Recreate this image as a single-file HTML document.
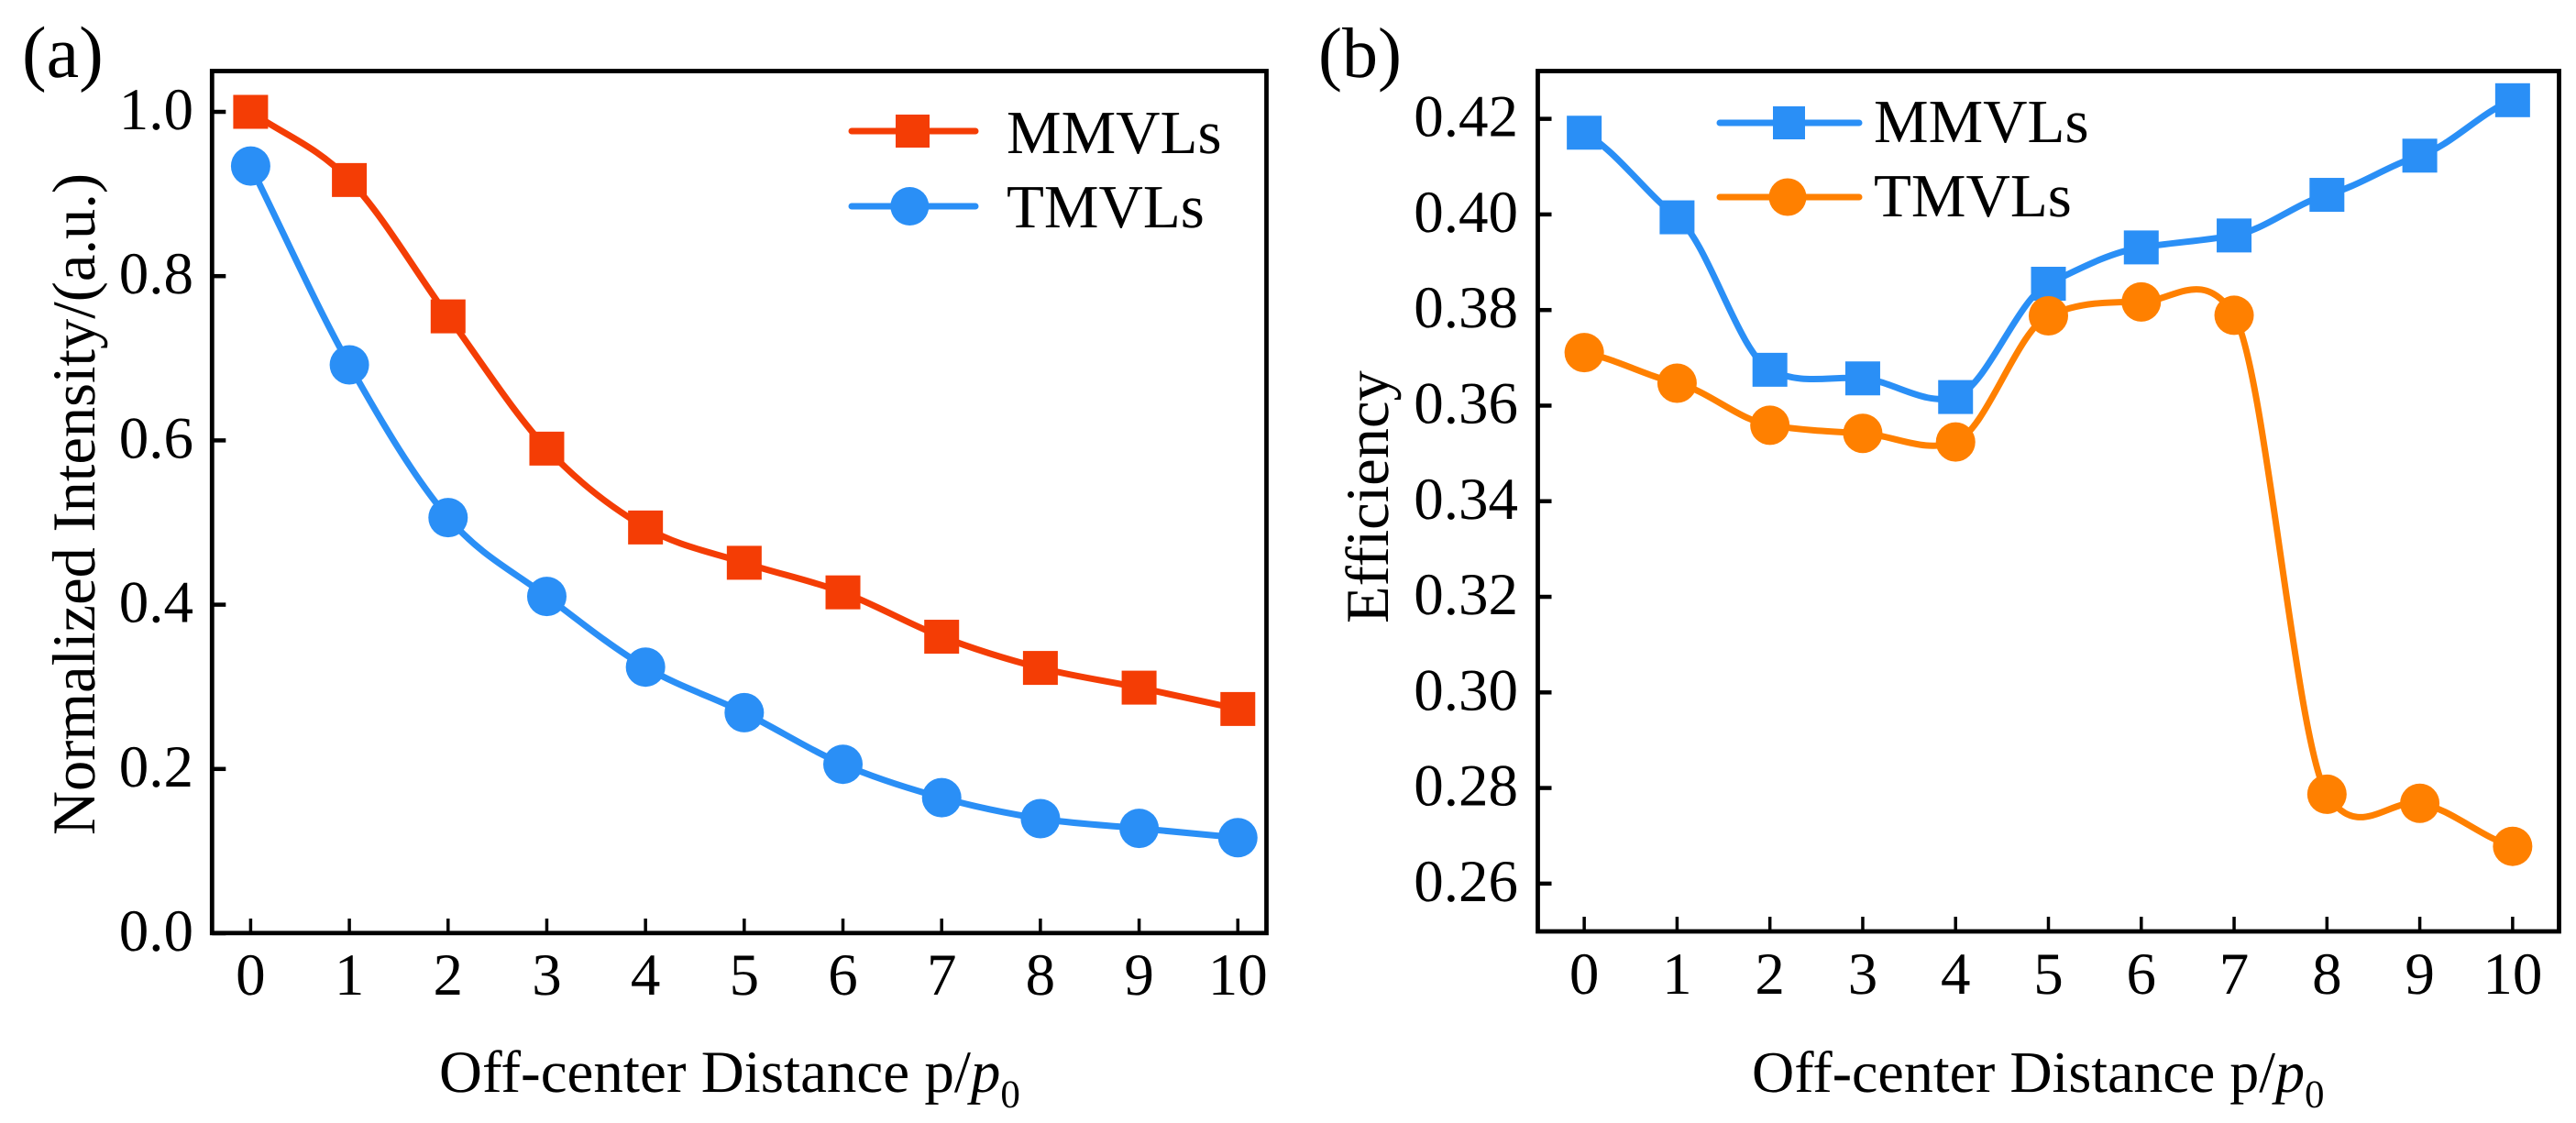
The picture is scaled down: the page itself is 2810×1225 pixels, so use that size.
<!DOCTYPE html>
<html lang="en">
<head>
<meta charset="utf-8">
<title>Off-center distance charts</title>
<style>
html,body{margin:0;padding:0;background:#fff;}
svg{display:block;}
text{font-family:"Liberation Serif","Times New Roman",serif;fill:#000;text-rendering:geometricPrecision;}
</style>
</head>
<body>
<svg id="figure" xmlns="http://www.w3.org/2000/svg" width="2810" height="1225" viewBox="0 0 2810 1225">
  <rect x="0" y="0" width="2810" height="1225" fill="#fff"/>
  <text x="24" y="84" font-size="80">(a)</text>
  <text x="1438" y="84" font-size="78">(b)</text>

  <rect x="231.3" y="77.5" width="1150.2" height="940.3" fill="none" stroke="#000" stroke-width="4.8"/>
  <rect x="1677.5" y="77.5" width="1114" height="938.5" fill="none" stroke="#000" stroke-width="4.8"/>

  <g id="panel-a-axes"></g>
  <g id="panel-b-axes"></g>
  <g id="panel-a-series"></g>
  <g id="panel-b-series"></g>

  <text x="479" y="1191" font-size="65">Off-center Distance p/<tspan font-style="italic">p</tspan><tspan font-size="43" dy="17">0</tspan></text>
  <text x="1911" y="1191" font-size="64">Off-center Distance p/<tspan font-style="italic">p</tspan><tspan font-size="43" dy="17">0</tspan></text>
  <text transform="translate(103 911) rotate(-90)" x="0" y="0" font-size="66.5">Normalized Intensity/(a.u.)</text>
  <text transform="translate(1514 680) rotate(-90)" x="0" y="0" font-size="66.5">Efficiency</text>

  <g>
    <line x1="929" y1="143" x2="1064" y2="143" stroke="#F43D05" stroke-width="7" stroke-linecap="round"/>
    <rect x="977" y="125" width="37" height="36" fill="#F43D05"/>
    <text x="1098" y="167" font-size="67">MMVLs</text>
    <line x1="929" y1="225" x2="1064" y2="225" stroke="#2A8FF6" stroke-width="7" stroke-linecap="round"/>
    <circle cx="992.3" cy="225" r="21" fill="#2A8FF6"/>
    <text x="1098" y="248" font-size="67">TMVLs</text>
  </g>
  <g>
    <line x1="1876" y1="134" x2="2028" y2="134" stroke="#2A8FF6" stroke-width="7" stroke-linecap="round"/>
    <rect x="1934" y="116" width="35" height="36" fill="#2A8FF6"/>
    <text x="2044" y="155" font-size="67">MMVLs</text>
    <line x1="1876" y1="215" x2="2028" y2="215" stroke="#FF8000" stroke-width="7" stroke-linecap="round"/>
    <circle cx="1950" cy="215" r="20.5" fill="#FF8000"/>
    <text x="2044" y="236" font-size="67">TMVLs</text>
  </g>
</svg>
<script>
var categories = [0, 1, 2, 3, 4, 5, 6, 7, 8, 9, 10];
var xTickLabels = ['0', '1', '2', '3', '4', '5', '6', '7', '8', '9', '10'];
var intensityTicks = [0.0, 0.2, 0.4, 0.6, 0.8, 1.0];
var intensityTickLabels = ['0.0', '0.2', '0.4', '0.6', '0.8', '1.0'];
var efficiencyTicks = [0.26, 0.28, 0.30, 0.32, 0.34, 0.36, 0.38, 0.40, 0.42];
var efficiencyTickLabels = ['0.26', '0.28', '0.30', '0.32', '0.34', '0.36', '0.38', '0.40', '0.42'];
var intensityMMVLs = [1.0, 0.917, 0.751, 0.59, 0.494, 0.451, 0.415, 0.361, 0.323, 0.299, 0.273];
var intensityTMVLs = [0.934, 0.692, 0.506, 0.41, 0.324, 0.2685, 0.2057, 0.165, 0.1395, 0.1277, 0.1163];
var efficiencyMMVLs = [0.4171, 0.3994, 0.3675, 0.3657, 0.3618, 0.3855, 0.3931, 0.3956, 0.4041, 0.4123, 0.4239];
var efficiencyTMVLs = [0.3711, 0.3647, 0.3559, 0.3542, 0.3524, 0.3788, 0.3817, 0.3789, 0.2787, 0.2768, 0.2678];

var NS = 'http://www.w3.org/2000/svg';

function linearScale(d0, d1, r0, r1) {
  return function (v) { return r0 + (v - d0) / (d1 - d0) * (r1 - r0); };
}
var xA = linearScale(-0.391, 10.29, 231.3, 1381.5);
var yA = linearScale(0, 1, 1018, 122);
var xB = linearScale(-0.5, 10.5, 1677.5, 2791.5);
var yB = linearScale(0.25, 0.43, 1016, 77.5);

function smoothPath(xs, ys, xScale, yScale, k) {
  var n = xs.length;
  var slopes = [];
  for (var i = 0; i < n; i++) {
    var a = Math.max(0, i - 1), b = Math.min(n - 1, i + 1);
    slopes.push((ys[b] - ys[a]) / (xs[b] - xs[a]) * k);
  }
  var d = 'M' + xScale(xs[0]) + ' ' + yScale(ys[0]);
  for (var j = 0; j < n - 1; j++) {
    var h = xs[j + 1] - xs[j];
    d += ' C' + xScale(xs[j] + h / 3) + ' ' + yScale(ys[j] + slopes[j] * h / 3) +
      ' ' + xScale(xs[j + 1] - h / 3) + ' ' + yScale(ys[j + 1] - slopes[j + 1] * h / 3) +
      ' ' + xScale(xs[j + 1]) + ' ' + yScale(ys[j + 1]);
  }
  return d;
}

function addTick(parent, x1, y1, x2, y2, width) {
  var el = document.createElementNS(NS, 'line');
  
  
  el.setAttribute('x1', x1);
  el.setAttribute('y1', y1);
  el.setAttribute('x2', x2);
  el.setAttribute('y2', y2);
  el.setAttribute('stroke', '#000');
  el.setAttribute('stroke-width', width);
  parent.appendChild(el);
}

function addLabel(parent, x, y, anchor, size, str) {
  var el = document.createElementNS(NS, 'text');
  
  
  el.setAttribute('x', x);
  el.setAttribute('y', y);
  el.setAttribute('text-anchor', anchor);
  el.setAttribute('font-size', size);
  el.textContent = str;
  parent.appendChild(el);
}

function drawAxes(parent, xScale, yScale, yTicks, yLabels, frameLeft, frameBottom, labelRight, xBaseline) {
  categories.forEach(function (c, i) {
    addTick(parent, xScale(c), frameBottom, xScale(c), frameBottom - 16, 3.5);
    addLabel(parent, xScale(c), xBaseline, 'middle', 65, xTickLabels[i]);
  });
  yTicks.forEach(function (t, i) {
    addTick(parent, frameLeft, yScale(t), frameLeft + 15, yScale(t), 4.5);
    addLabel(parent, labelRight, yScale(t) + 19, 'end', 65, yLabels[i]);
  });
}

function drawSeries(parent, values, xScale, yScale, color, shape, k) {
  var line = document.createElementNS(NS, 'path');
  
  
  line.setAttribute('d', smoothPath(categories, values, xScale, yScale, k));
  line.setAttribute('fill', 'none');
  line.setAttribute('stroke', color);
  line.setAttribute('stroke-width', 7);
  parent.appendChild(line);
  values.forEach(function (v, i) {
    var m;
    if (shape === 'square') {
      m = document.createElementNS(NS, 'rect');
      m.setAttribute('x', xScale(categories[i]) - 19);
      m.setAttribute('y', yScale(v) - 18.5);
      m.setAttribute('width', 38);
      m.setAttribute('height', 37);
    } else {
      m = document.createElementNS(NS, 'circle');
      m.setAttribute('cx', xScale(categories[i]));
      m.setAttribute('cy', yScale(v));
      m.setAttribute('r', 21.5);
    }
    
    
    m.setAttribute('fill', color);
    parent.appendChild(m);
  });
}

drawAxes(document.getElementById('panel-a-axes'), xA, yA, intensityTicks, intensityTickLabels, 231.3, 1018, 211, 1085);
drawAxes(document.getElementById('panel-b-axes'), xB, yB, efficiencyTicks, efficiencyTickLabels, 1677.5, 1016, 1656, 1084);
drawSeries(document.getElementById('panel-a-series'), intensityMMVLs, xA, yA, '#F43D05', 'square', 1);
drawSeries(document.getElementById('panel-a-series'), intensityTMVLs, xA, yA, '#2A8FF6', 'circle', 1);
drawSeries(document.getElementById('panel-b-series'), efficiencyMMVLs, xB, yB, '#2A8FF6', 'square', 0.6);
drawSeries(document.getElementById('panel-b-series'), efficiencyTMVLs, xB, yB, '#FF8000', 'circle', 0.6);
</script>
</body>
</html>
